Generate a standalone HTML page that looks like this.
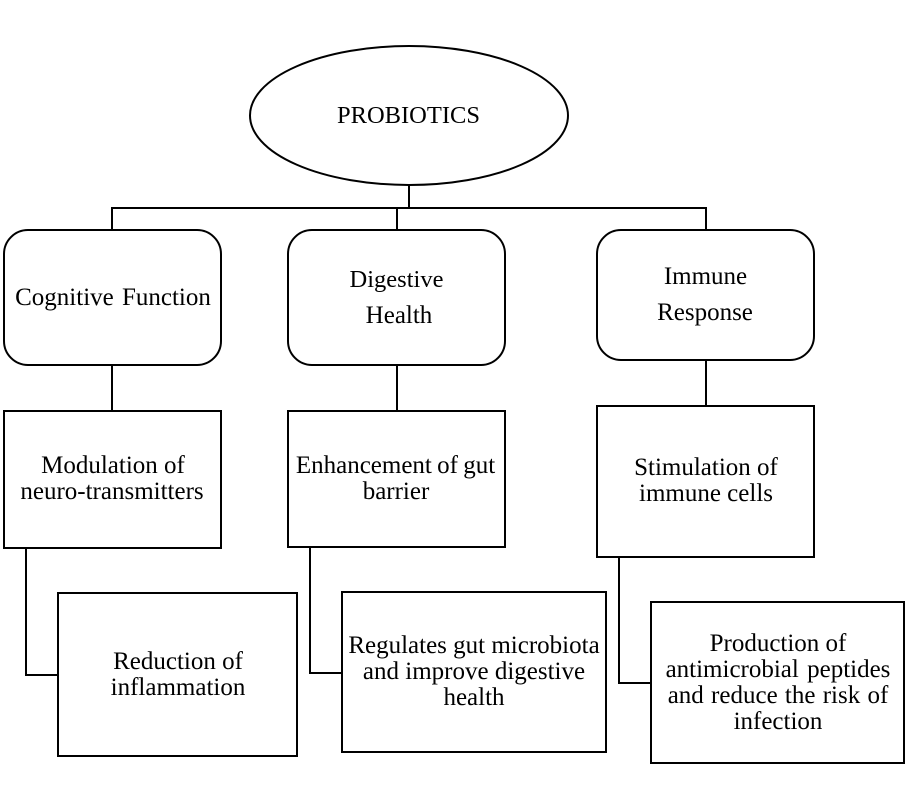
<!DOCTYPE html>
<html><head><meta charset="utf-8"><style>
html,body{margin:0;padding:0;background:#fff;width:909px;height:809px;overflow:hidden}
svg{display:block}
text{font-family:"Liberation Serif",serif;font-size:25px;fill:#000;text-anchor:middle}
.s{fill:#fff;stroke:#000;stroke-width:2}
.l{fill:none;stroke:#000;stroke-width:2}
</style></head><body>
<svg width="909" height="809" viewBox="0 0 909 809">
<path class="l" d="M409 185V208M112 230V208H706V230M397 208V230M112 365V411M397 365V411M706 360V406M26 548V675H58M310 547V673H342M619 557V683H651"/>
<ellipse class="s" cx="409" cy="115.500" rx="159" ry="69.500"/>
<rect class="s" x="4" y="230" width="217" height="135" rx="24"/>
<rect class="s" x="288" y="230" width="217" height="135" rx="24"/>
<rect class="s" x="597" y="230" width="217" height="130" rx="24"/>
<rect class="s" x="4" y="411" width="217" height="137"/>
<rect class="s" x="288" y="411" width="217" height="136"/>
<rect class="s" x="597" y="406" width="217" height="151"/>
<rect class="s" x="58" y="593" width="239" height="163"/>
<rect class="s" x="342" y="592" width="264" height="160"/>
<rect class="s" x="651" y="602" width="253" height="161"/>
<text x="408.500" y="123" style="font-size:24.500px">PROBIOTICS</text>
<text x="113" y="305" word-spacing="2">Cognitive Function</text>
<text x="396.500" y="287" style="font-size:24.500px">Digestive</text>
<text x="399" y="323">Health</text>
<text x="705.500" y="284">Immune</text>
<text x="705" y="320">Response</text>
<text x="113" y="473">Modulation of</text>
<text x="112" y="499">neuro-transmitters</text>
<text x="395.500" y="473" word-spacing="-1">Enhancement of gut</text>
<text x="396" y="499">barrier</text>
<text x="706" y="475">Stimulation of</text>
<text x="706" y="501">immune cells</text>
<text x="178" y="669">Reduction of</text>
<text x="178" y="695">inflammation</text>
<text x="474" y="653">Regulates gut microbiota</text>
<text x="474" y="679">and improve digestive</text>
<text x="474" y="705">health</text>
<text x="778" y="651">Production of</text>
<text x="778" y="677" word-spacing="2">antimicrobial peptides</text>
<text x="778" y="703" word-spacing="1">and reduce the risk of</text>
<text x="778" y="729">infection</text>
</svg>
</body></html>
